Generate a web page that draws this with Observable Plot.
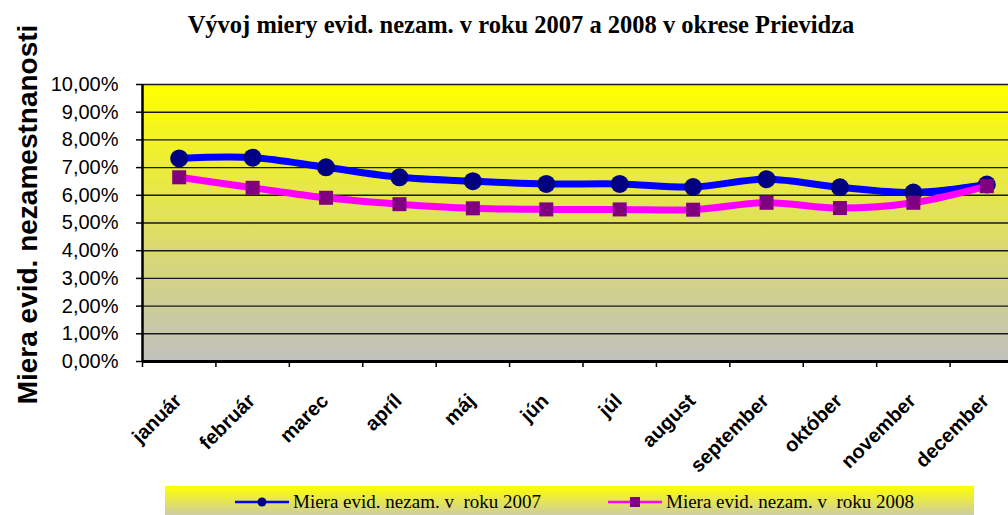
<!DOCTYPE html>
<html>
<head>
<meta charset="utf-8">
<script src="https://cdn.jsdelivr.net/npm/d3@7"></script>
<script src="https://cdn.jsdelivr.net/npm/@observablehq/plot@0.6"></script>
<style>
  html, body { margin: 0; padding: 0; background: #fff; width: 1008px; height: 515px; overflow: hidden; }
  #wrap { position: relative; width: 1008px; height: 515px; }
  #chart { position: absolute; left: 0; top: 0; }
  #title { position: absolute; left: 0; top: 5px; width: 1042px; height: 40px; text-align: center;
    font-family: "Liberation Serif", "Times New Roman", serif; font-weight: bold; font-size: 24.5px; line-height: 40px; color: #000; }
  #legend { position: absolute; left: 165px; top: 486px; width: 809px; height: 32px;
    background: linear-gradient(#ffff00, #c8c8b4); }
  .li { position: absolute; top: 5px; height: 22px; display: flex; align-items: center;
    font-family: "Liberation Serif", "Times New Roman", serif; font-size: 19px; color: #000; white-space: pre; }
  .li svg { margin-right: 4px; }
</style>
</head>
<body>
<div id="wrap">
  <div id="chart"></div>
  <div id="title"></div>
  <div id="legend"></div>
</div>
<script>
const titleText = "Vývoj miery evid. nezam. v roku 2007 a 2008 v okrese Prievidza";
const yLabel = "Miera evid. nezamestnanosti";
const months = ["január", "február", "marec", "apríl", "máj", "jún", "júl", "august", "september", "október", "november", "december"];
const values2007 = [7.33, 7.36, 7.01, 6.65, 6.51, 6.41, 6.41, 6.30, 6.58, 6.29, 6.10, 6.39];
const values2008 = [6.65, 6.27, 5.91, 5.68, 5.53, 5.49, 5.49, 5.48, 5.73, 5.54, 5.73, 6.33];
const yTicks = [0, 1, 2, 3, 4, 5, 6, 7, 8, 9, 10];
const xBoundaries = [0, 1, 2, 3, 4, 5, 6, 7, 8, 9, 10, 11, 12];
const seriesNames = ["Miera evid. nezam. v  roku 2007", "Miera evid. nezam. v  roku 2008"];

document.getElementById("title").textContent = titleText;

const d07 = months.map((m, i) => ({month: m, i: i + 0.5, v: values2007[i]}));
const d08 = months.map((m, i) => ({month: m, i: i + 0.5, v: values2008[i]}));
const fmt = d => d.toFixed(2).replace(".", ",") + "%";

const plot = Plot.plot({
  width: 1008,
  height: 486,
  marginTop: 84,
  marginBottom: 125,
  marginLeft: 142,
  marginRight: 0,
  style: {background: "transparent", overflow: "hidden"},
  x: {domain: [0, 12], range: [142, 1023], axis: null},
  y: {domain: [0, 10], axis: null},
  marks: [
    Plot.frame({fill: "url(#bgGrad)", stroke: "none"}),
    Plot.gridY(yTicks, {stroke: "#1a1a1a", strokeOpacity: 1, strokeWidth: 1.4}),
    Plot.axisY(yTicks, {tickFormat: fmt, tickSize: 6, tickPadding: 18, fontSize: 20, stroke: "#000", strokeWidth: 1.5,
      fontFamily: "Liberation Sans, Arial, sans-serif", label: null}),
    Plot.axisX(xBoundaries, {tickFormat: () => "", tickSize: 6, stroke: "#000", strokeWidth: 1.5, label: null}),
    Plot.ruleX([0], {stroke: "#000", strokeWidth: 2.5}),
    Plot.ruleY([0], {stroke: "#000", strokeWidth: 3}),
    Plot.line(d07, {x: "i", y: "v", stroke: "#0000ff", strokeWidth: 7, curve: "catmull-rom"}),
    Plot.dot(d07, {x: "i", y: "v", r: 9, fill: "#000080", stroke: "none"}),
    Plot.line(d08, {x: "i", y: "v", stroke: "#ff00ff", strokeWidth: 7, curve: "catmull-rom"}),
    Plot.dot(d08, {x: "i", y: "v", r: 7.9, symbol: "square", fill: "#800080", stroke: "none"}),
    Plot.text(d07, {x: "i", y: () => 0, text: "month", rotate: -45, textAnchor: "end", dx: -1, dy: 36,
      fontSize: 20, fontWeight: "bold", fontFamily: "Liberation Sans, Arial, sans-serif", fill: "#000"}),
    Plot.text([yLabel], {x: 0, y: 5, text: d => d, rotate: -90, dx: -114, dy: -8.5,
      fontSize: 28, fontWeight: "bold", fontFamily: "Liberation Sans, Arial, sans-serif", fill: "#000"})
  ]
});

const svg = d3.select(plot);
const defs = svg.insert("defs", ":first-child");
const g = defs.append("linearGradient").attr("id", "bgGrad").attr("x1", 0).attr("y1", 0).attr("x2", 0).attr("y2", 1);
g.append("stop").attr("offset", "0%").attr("stop-color", "#ffff00");
g.append("stop").attr("offset", "100%").attr("stop-color", "#c0c0c0");
document.getElementById("chart").appendChild(plot);

// legend
const legend = document.getElementById("legend");
const legendItems = [
  {name: seriesNames[0], stroke: "#0000ff", fill: "#000080", symbol: "circle", left: 70},
  {name: seriesNames[1], stroke: "#ff00ff", fill: "#800080", symbol: "square", left: 443}
];
for (const it of legendItems) {
  const div = document.createElement("div");
  div.className = "li";
  div.style.left = it.left + "px";
  const s = d3.create("svg").attr("width", 54).attr("height", 16);
  s.append("line").attr("x1", 0).attr("x2", 54).attr("y1", 8).attr("y2", 8).attr("stroke", it.stroke).attr("stroke-width", 2.5);
  if (it.symbol === "circle") s.append("circle").attr("cx", 27).attr("cy", 8).attr("r", 4.5).attr("fill", it.fill);
  else s.append("rect").attr("x", 22).attr("y", 3).attr("width", 10).attr("height", 10).attr("fill", it.fill);
  div.appendChild(s.node());
  const t = document.createElement("span");
  t.textContent = it.name;
  div.appendChild(t);
  legend.appendChild(div);
}
</script>
</body>
</html>
